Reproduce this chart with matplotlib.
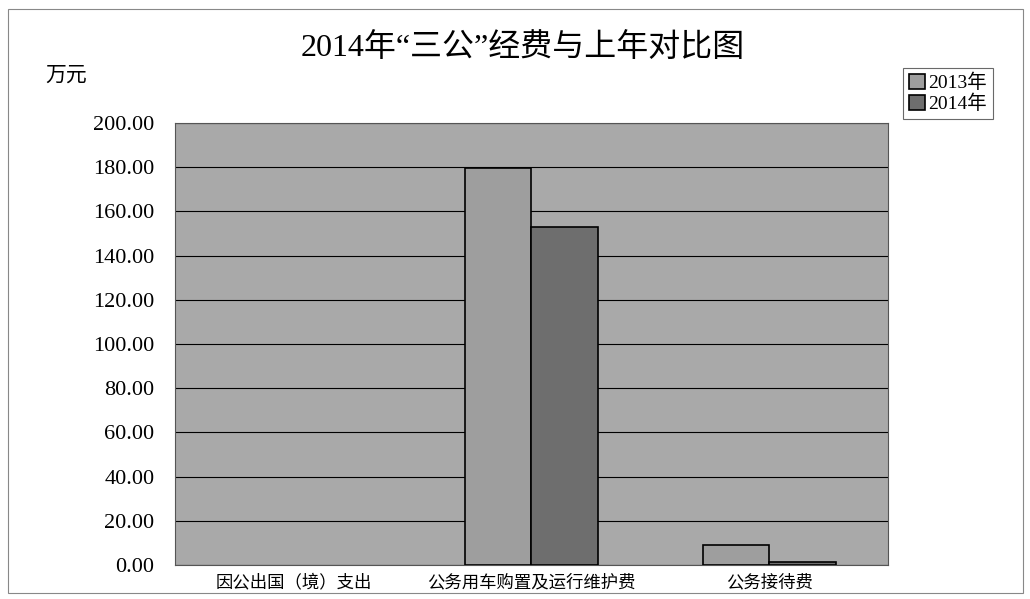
import matplotlib
matplotlib.use("Agg")
import matplotlib.pyplot as plt
import numpy as np
from matplotlib.patches import Rectangle

plt.rcParams['font.family'] = ['Liberation Serif', 'Noto Sans CJK SC', 'DejaVu Sans']

categories = ['因公出国（境）支出', '公务用车购置及运行维护费', '公务接待费']
years = ['2013年', '2014年']
v2013 = [0.0, 179.6, 9.0]
v2014 = [0.0, 153.1, 1.5]
yticks = np.arange(0, 201, 20)

fig = plt.figure(figsize=(10.30, 5.99), dpi=100)
fig.patch.set_facecolor('white')
ax = fig.add_axes([0.170, 0.0568, 0.692, 0.738])
ax.set_facecolor('#a9a9a9')

x = np.arange(len(categories))
w = 0.28
b13 = ax.bar(x - w/2, v2013, w, color='#9e9e9e', edgecolor='black', linewidth=1.2,
             label=years[0], zorder=3)
b14 = ax.bar(x + w/2, v2014, w, color='#6e6e6e', edgecolor='black', linewidth=1.2,
             label=years[1], zorder=3)

ax.set_xlim(-0.5, 2.5)
ax.set_ylim(0, 200)
ax.set_yticks(yticks)
ax.set_yticklabels(['%.2f' % v for v in yticks], fontsize=16)
ax.set_xticks(x)
ax.set_xticklabels(categories, fontsize=12.5)
ax.tick_params(axis='y', length=0, pad=15)
ax.tick_params(axis='x', length=0, pad=7)
ax.grid(axis='y', color='black', linewidth=0.8, zorder=1)
for s in ax.spines.values():
    s.set_color('#555555')
    s.set_linewidth(0.8)

fig.text(0.508, 0.918, '2014年“三公”经费与上年对比图', ha='center', va='center',
         fontsize=23)
fig.text(0.044, 0.873, '万元', ha='left', va='center', fontsize=15)

leg = fig.legend(loc='upper left', bbox_to_anchor=(0.877, 0.887), fontsize=14,
                 frameon=True, fancybox=False, edgecolor='#444444',
                 handlelength=0.8, handleheight=0.8, handletextpad=0.2,
                 borderpad=0.3, labelspacing=0.15, borderaxespad=0)
leg.get_frame().set_linewidth(0.8)

# hide outlines of empty bars (after legend so handles keep their edge)
for p in list(b13) + list(b14):
    if p.get_height() == 0:
        p.set_linewidth(0)

fig.patches.append(Rectangle((0.008, 0.01), 0.985, 0.975, transform=fig.transFigure,
                             fill=False, edgecolor='#888888', linewidth=0.8))

fig.savefig('out.png', dpi=100)
